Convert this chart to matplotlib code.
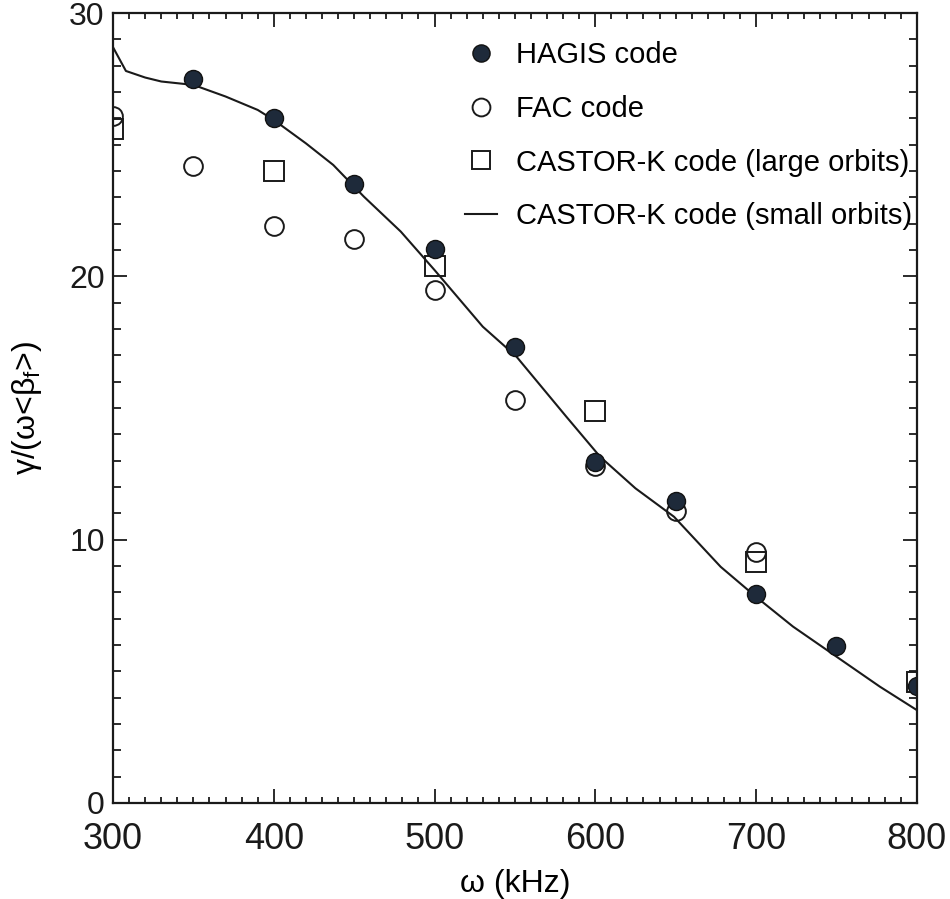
import matplotlib
matplotlib.use("Agg")
import matplotlib.pyplot as plt
from matplotlib.ticker import MultipleLocator
from matplotlib import font_manager

# pick a narrow Helvetica-like face if there is one
names = set(f.name for f in font_manager.fontManager.ttflist)
if 'Liberation Sans Narrow' in names:
    plt.rcParams['font.family'] = ['Liberation Sans Narrow', 'DejaVu Sans']
else:
    plt.rcParams['font.family'] = ['Liberation Sans', 'DejaVu Sans']
plt.rcParams['mathtext.default'] = 'regular'

# values
hagis_x = [350, 400, 450, 500, 550, 600, 650, 700, 750, 800]
hagis_y = [27.5, 26.0, 23.5, 21.05, 17.3, 12.95, 11.45, 7.95, 5.95, 4.45]

fac_x = [300, 350, 400, 450, 500, 550, 600, 650, 700]
fac_y = [26.1, 24.2, 21.9, 21.4, 19.5, 15.3, 12.8, 11.1, 9.55]

large_x = [300, 400, 500, 600, 700, 800]
large_y = [25.6, 24.0, 20.4, 14.9, 9.15, 4.6]

small_x = [300, 308, 320, 330, 350, 370, 390, 400, 420, 437, 456, 479, 500, 530,
           551, 582, 603, 625, 649, 678, 700, 723, 750, 777, 800]
small_y = [28.7, 27.8, 27.55, 27.4, 27.27, 26.83, 26.32, 25.94, 25.05, 24.23, 23.03,
           21.7, 20.24, 18.09, 16.95, 14.67, 13.15, 11.95, 10.87, 8.97, 7.83, 6.7,
           5.56, 4.42, 3.53]

fig = plt.figure(figsize=(9.5, 8.99), dpi=100)
ax = fig.add_axes([0.119, 0.1068, 0.846, 0.8787])

ax.plot(small_x, small_y, color='#1a1a1a', lw=1.5, label='CASTOR-K code (small orbits)')
ax.plot(large_x, large_y, ls='none', marker='s', ms=14, mfc='none', mec='#1a1a1a',
        mew=1.4, label='CASTOR-K code (large orbits)')
ax.plot(fac_x, fac_y, ls='none', marker='o', ms=13.5, mfc='none', mec='#1a1a1a',
        mew=1.4, label='FAC code')
ax.plot(hagis_x, hagis_y, ls='none', marker='o', ms=13, mfc='#1e2a3a', mec='#111111',
        mew=1.0, label='HAGIS code')

ax.set_xlim(300, 800)
ax.set_ylim(0, 30)
ax.xaxis.set_major_locator(MultipleLocator(100))
ax.xaxis.set_minor_locator(MultipleLocator(10))
ax.yaxis.set_major_locator(MultipleLocator(10))
ax.yaxis.set_minor_locator(MultipleLocator(1))

ax.tick_params(which='both', direction='in', top=True, right=True, width=1.3, colors='#1a1a1a')
ax.tick_params(axis='x', which='major', length=10, labelsize=26, pad=14)
ax.tick_params(axis='x', which='minor', length=4)
ax.tick_params(axis='y', which='major', length=10, labelsize=23, pad=6)
ax.tick_params(axis='y', which='minor', length=6)
for s in ax.spines.values():
    s.set_linewidth(1.6)
    s.set_color('#1a1a1a')

ax.set_xlabel('ω (kHz)', fontsize=23, labelpad=8)
ax.set_ylabel('γ/(ω<' + r'$β_f$' + '>)', fontsize=23, labelpad=18)

h, l = ax.get_legend_handles_labels()
order = [3, 2, 1, 0]
ax.legend([h[i] for i in order], [l[i] for i in order], loc='upper left',
          bbox_to_anchor=(0.413, 0.99), frameon=False, fontsize=21, handlelength=1.07,
          handletextpad=0.65, labelspacing=0.88, borderaxespad=0.3, markerscale=0.95)

fig.savefig('out.png', dpi=100)
